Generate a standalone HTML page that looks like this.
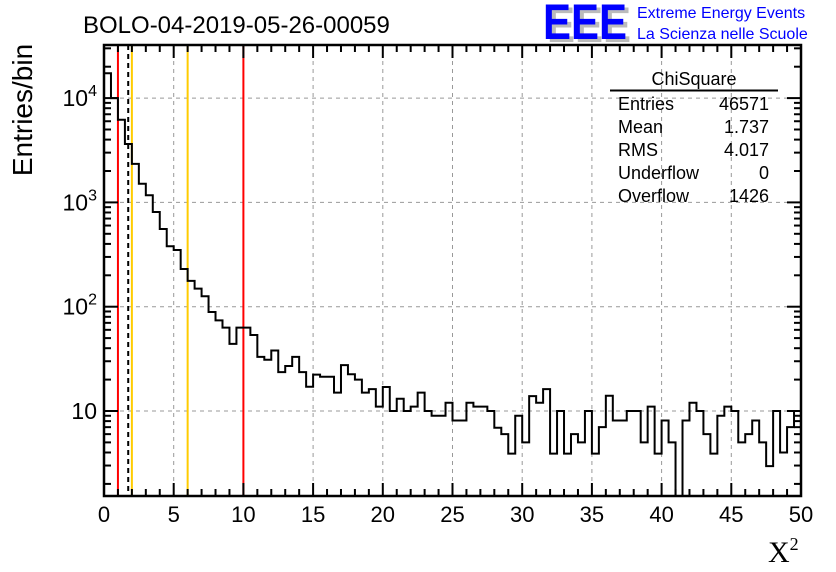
<!DOCTYPE html>
<html><head><meta charset="utf-8"><style>
html,body{margin:0;padding:0;background:#fff;}
svg{display:block;font-family:"Liberation Sans",sans-serif;}
</style></head><body>
<svg id="c" width="836" height="572" viewBox="0 0 836 572">
<rect x="0" y="0" width="836" height="572" fill="#fff"/>
<text x="83" y="33" font-size="24">BOLO-04-2019-05-26-00059</text>
<g>
<text x="547" y="42" font-size="50" font-weight="bold" fill="#bbb" textLength="84" lengthAdjust="spacingAndGlyphs">EEE</text>
<text x="543" y="39" font-size="50" font-weight="bold" fill="#0000ff" textLength="84" lengthAdjust="spacingAndGlyphs">EEE</text>
<text x="637" y="18" font-size="16" fill="#0000ff">Extreme Energy Events</text>
<text x="637" y="39" font-size="16" fill="#0000ff">La Scienza nelle Scuole</text>
</g>
<g id="grid"></g>
<g id="vlines"></g>
<path id="hist" fill="none" stroke="#000" stroke-width="2"/>
<g id="axes"></g>
<text x="32" y="110" font-size="28" transform="rotate(-90 32 110)" text-anchor="middle">Entries/bin</text>
<text x="768" y="562" font-size="30" font-family="'Liberation Serif',serif">X<tspan font-size="18" dy="-12">2</tspan></text>
<g>
<text x="694" y="85" font-size="18" text-anchor="middle">ChiSquare</text>
<line x1="610" y1="90.5" x2="778" y2="90.5" stroke="#000" stroke-width="2"/>
<g id="stats" font-size="18"></g>
</g>
</svg>
<script>
const binValues=[17300,10000,6200,3630,2340,1510,1170,810,556,380,350,230,177,149,126,89,74,63,44,63,63,53.5,33,31,38,23.6,27,33,23.6,17.1,22.3,21.3,21.3,15,27.5,22.5,20,15,16.2,11,17,10,13.1,10,11,15,10,9,9,12,8.1,8.1,12,11,11,10,6.9,6.0,3.9,9,5.0,13.9,12,16.2,3.9,10,3.9,6.0,5.0,10,3.9,7.0,14,8.1,8.1,10,10,5,11,3.9,8.1,5,0,8.1,12,10,6,3.9,9,11,10,5,6,8.1,5,2.96,10,4,7,10];
const binWidth=0.5;
const xTicks=[0,5,10,15,20,25,30,35,40,45,50];
const yDecades=[1,2,3,4];
const yTickLabels=["10","10²","10³","10⁴"];
const refLines=[{x:1,c:"#ff0000",d:""},{x:2,c:"#ffcc00",d:""},{x:6,c:"#ffcc00",d:""},{x:10,c:"#ff0000",d:""},{x:1.737,c:"#000",d:"5,4"}];
const statLabels=["Entries","Mean","RMS","Underflow","Overflow"];
const statValues=["46571","1.737","4.017","0","1426"];
const L=104,R=801,T=45,B=496;
const X=v=>L+(v-0)/50*(R-L);
const Y=v=>{ if(v<=0) return B; const y=411-(Math.log10(v)-1)*104.3; return Math.min(B,Math.max(T,y)); };
const NS="http://www.w3.org/2000/svg";
function mk(tag,attrs,parent){const e=document.createElementNS(NS,tag);for(const k in attrs)e.setAttribute(k,attrs[k]);parent.appendChild(e);return e;}
const grid=document.getElementById('grid'),axes=document.getElementById('axes'),vl=document.getElementById('vlines');
xTicks.forEach(t=>{ if(t>0&&t<50){const l=mk('line',{x1:X(t),x2:X(t),y1:T,y2:B,stroke:'#999','stroke-dasharray':'4,4','stroke-width':1},grid);

}});
yDecades.forEach(d=>{const y=Y(Math.pow(10,d));const l=mk('line',{x1:L,x2:R,y1:y,y2:y,stroke:'#999','stroke-dasharray':'4,4','stroke-width':1},grid);

});
refLines.forEach(r=>{const a={x1:X(r.x),x2:X(r.x),y1:T,y2:B,stroke:r.c,'stroke-width':2};if(r.d)a['stroke-dasharray']=r.d;const l=mk('line',a,vl);

});
let d='M'+X(0)+','+B;
binValues.forEach((v,i)=>{const y=Y(v);d+=' L'+X(i*binWidth)+','+y+' L'+X((i+1)*binWidth)+','+y;});
d+=' L'+X(binValues.length*binWidth)+','+B;
document.getElementById('hist').setAttribute('d',d);
mk('rect',{x:L,y:T,width:R-L,height:B-T,fill:'none',stroke:'#000','stroke-width':2.5},axes);
for(let t=0;t<=50;t++){const big=t%5===0;const len=big?13:7;const x=X(t);
mk('line',{x1:x,x2:x,y1:B,y2:B-len,stroke:'#000','stroke-width':2},axes);
mk('line',{x1:x,x2:x,y1:T,y2:T+len,stroke:'#000','stroke-width':2},axes);}
xTicks.forEach(t=>{const tx=mk('text',{x:X(t),y:522,'font-size':22,'text-anchor':'middle'},axes);tx.textContent=t;

});
for(let d2=0;d2<=4;d2++){for(let m=1;m<=9;m++){const v=m*Math.pow(10,d2);const y=Y(v);if(y<=T+1||y>=B)continue;const len=m===1?14:7;
mk('line',{x1:L,x2:L+len,y1:y,y2:y,stroke:'#000','stroke-width':2},axes);
mk('line',{x1:R,x2:R-len,y1:y,y2:y,stroke:'#000','stroke-width':2},axes);}}
yDecades.forEach((dd,i)=>{const y=Y(Math.pow(10,dd));const lab=yTickLabels[i];const tx=mk('text',{x:97,y:y+8,'font-size':23,'text-anchor':'end'},axes);
if(dd===1){tx.textContent=lab;}else{tx.textContent='10';const s=mk('tspan',{'font-size':16,dy:-10},tx);s.textContent=String(dd);}

});
const st=document.getElementById('stats');
statLabels.forEach((s,i)=>{const y=110+i*23;const a=mk('text',{x:618,y:y},st);a.textContent=s;


const b=mk('text',{x:769,y:y,'text-anchor':'end'},st);b.textContent=statValues[i];

});
</script>
</body></html>
